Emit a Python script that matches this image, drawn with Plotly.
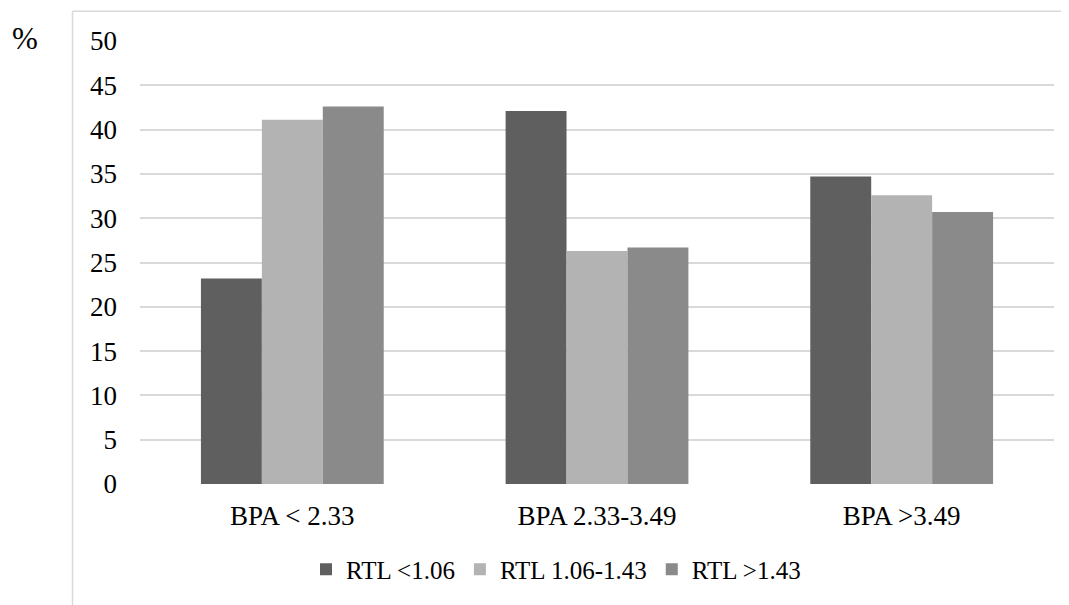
import plotly.graph_objects as go

categories = ["BPA < 2.33", "BPA 2.33-3.49", "BPA >3.49"]
series_names = ["RTL <1.06", "RTL 1.06-1.43", "RTL >1.43"]
rtl_low = [23.2, 42.1, 34.7]
rtl_mid = [41.1, 26.3, 32.6]
rtl_high = [42.6, 26.7, 30.7]
colors = ["#5f5f5f", "#b3b3b3", "#8a8a8a"]
y_ticks = [0, 5, 10, 15, 20, 25, 30, 35, 40, 45, 50]

FONT = "Liberation Serif"

fig = go.Figure()
for name, vals, col in zip(series_names, [rtl_low, rtl_mid, rtl_high], colors):
    fig.add_trace(go.Bar(
        x=categories, y=vals, name=name,
        marker=dict(color=col, line=dict(width=0)),
    ))

# page body has an 8px default margin; compensate so screen positions match
OFF = 8
W, H = 1069 - OFF, 605 - OFF
L = 140 - OFF
T = 41 - OFF
R = W - (1054 - OFF)
B = H - (487 - OFF)
pw, ph = W - L - R, H - T - B

def px_x(x):
    return (x - OFF - L) / pw

def px_y(y):
    return (H - B - (y - OFF)) / ph

fig.update_layout(
    width=W, height=H,
    margin=dict(l=L, r=R, t=T, b=B, pad=0),
    paper_bgcolor="white", plot_bgcolor="white",
    barmode="group", bargap=0.4, bargroupgap=0,
    font=dict(family=FONT, size=27, color="#000000"),
    xaxis=dict(showgrid=False, showline=False, ticks="", zeroline=False,
               tickfont=dict(family=FONT, size=27), ticklabelstandoff=13),
    yaxis=dict(range=[0, 50], tickvals=y_ticks, showgrid=True,
               gridcolor="#d9d9d9", gridwidth=1.5, zeroline=False,
               showline=False, ticks="",
               tickfont=dict(family=FONT, size=27), ticklabelstandoff=22),
    legend=dict(orientation="h", x=px_x(556), xanchor="center",
                y=px_y(573), yanchor="middle",
                font=dict(family=FONT, size=25), itemwidth=30,
                traceorder="normal"),
    showlegend=True,
)

# chart-area border (left and top)
fig.add_shape(type="line", xref="paper", yref="paper",
              x0=px_x(72.5), x1=px_x(72.5), y0=px_y(11), y1=px_y(610),
              line=dict(color="#d9d9d9", width=1.5))
fig.add_shape(type="line", xref="paper", yref="paper",
              x0=px_x(72.5), x1=px_x(1075), y0=px_y(11), y1=px_y(11),
              line=dict(color="#d9d9d9", width=1.5))

fig.add_annotation(text="%", xref="paper", yref="paper",
                   x=px_x(25), y=px_y(38), xanchor="center", yanchor="middle",
                   showarrow=False, font=dict(family=FONT, size=31, color="#000000"))

fig.write_html("out.html")
